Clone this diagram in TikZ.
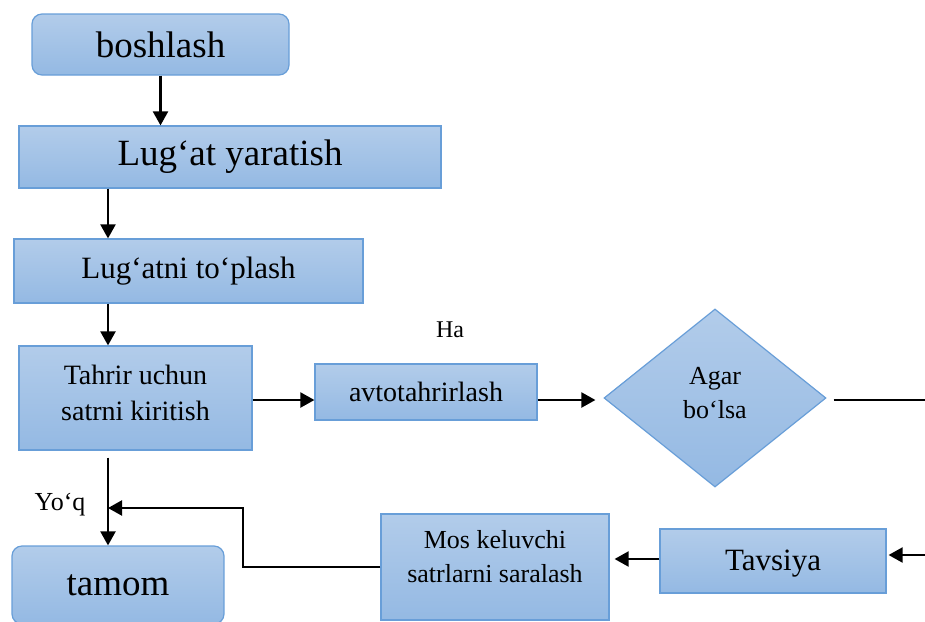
\documentclass[tikz,border=0pt]{standalone}
\usepackage{fontspec}
\setmainfont{Liberation Serif}
\usetikzlibrary{shapes.geometric,arrows.meta}
\definecolor{boxtop}{RGB}{178,204,234}
\definecolor{boxbot}{RGB}{148,185,227}
\definecolor{boxedge}{RGB}{104,158,216}
\tikzset{
  fbox/.style={draw=boxedge, line width=1.2pt, top color=boxtop, bottom color=boxbot, inner sep=0pt, align=center},
  rbox/.style={fbox, rounded corners=10pt},
  dbox/.style={fbox, diamond, aspect=1.247},
  arr/.style={line width=2.2pt, -{Triangle[length=14pt,width=15pt]}},
  ln/.style={line width=2.2pt},
  lbl/.style={inner sep=0pt, align=center},
  fA/.style={font=\fontsize{37}{44}\selectfont},
  fB/.style={font=\fontsize{31}{37}\selectfont},
  fC/.style={font=\fontsize{28}{36}\selectfont},
  fD/.style={font=\fontsize{26}{34}\selectfont},
  fE/.style={font=\fontsize{24}{28}\selectfont},
}
\begin{document}
\begin{tikzpicture}[x=1pt,y=-1pt]
\useasboundingbox (0,0) rectangle (925,621);
\clip (0,0) rectangle (925,621);
% nodes
\node[rbox,fA,minimum width=257pt,minimum height=61pt] (bosh) at (160.5,44.5) {boshlash};
\node[fbox,fA,minimum width=422pt,minimum height=62pt] (lug) at (230,157) {Lug‘at yaratish};
\node[fbox,fB,minimum width=349pt,minimum height=64pt] (top) at (188.5,271) {Lug‘atni to‘plash};
\node[fbox,minimum width=233pt,minimum height=104pt] (tahrir) at (135.5,398) {};
\node[lbl,fC] (tahrirtext) at (135.5,393) {Tahrir uchun\\satrni kiritish};
\node[fbox,fC,minimum width=222pt,minimum height=56pt] (avto) at (426,392) {avtotahrirlash};
\node[dbox,minimum width=222pt,minimum height=178pt] (agar) at (715,398) {};
\node[lbl,fD] (agartext) at (715,393.5) {Agar\\bo‘lsa};
\node[fbox,minimum width=226pt,minimum height=64pt] (tav) at (773,561) {};
\node[lbl,fB] (tavtext) at (773,564) {Tavsiya};
\node[fbox,minimum width=228pt,minimum height=106pt] (mos) at (495,567) {};
\node[lbl,fD] (mostext) at (495,557) {Mos keluvchi\\satrlarni saralash};
\node[rbox,fA,minimum width=212pt,minimum height=78pt] (tamom) at (118,585) {tamom};
\node[lbl,fE] (ha) at (450,330) {Ha};
\node[lbl,fD] (yoq) at (60,505) {Yo‘q};
% helper coordinates
\coordinate (cx) at (108,0);
\coordinate (row) at (0,400);
\coordinate (rA) at (925,400);
\coordinate (rB) at (925,555);
\coordinate (bend) at (243,508);
\coordinate (join) at (108,508);
% connectors
\draw[arr] (bosh.south) -- (bosh.south |- lug.north);
\draw[arr] (lug.south -| cx) -- (top.north -| cx);
\draw[arr] (top.south -| cx) -- (tahrir.north -| cx);
\draw[arr] (tahrir.east |- row) -- (avto.west |- row);
\draw[arr,shorten >=8pt] (avto.east |- row) -- (agar.west |- row);
\draw[ln,shorten <=7pt] (agar.east |- row) -- (rA);
\draw[arr,shorten >=2pt] (rB) -- (tav.east |- rB);
\draw[arr,shorten >=5pt] (tav.west |- 0,559) -- (mos.east |- 0,559);
\draw[arr,shorten <=7pt] (cx |- tahrir.south) -- (cx |- tamom.north);
\draw[arr] (mos.west) -| (bend) -- (join);
\end{tikzpicture}
\end{document}
